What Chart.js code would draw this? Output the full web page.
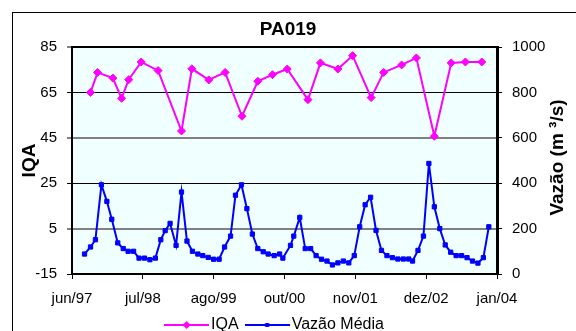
<!DOCTYPE html>
<html>
<head>
<meta charset="utf-8">
<script src="https://cdn.jsdelivr.net/npm/chart.js@4.4.0/dist/chart.umd.min.js"></script>
<style>
body { margin: 0; background: #fff; }
#wrap { width: 576px; height: 331px; }
</style>
</head>
<body>
<div id="wrap"><canvas id="pa019"></canvas></div>
<script>
//Axis ticks (x in months counted from jun/97)
const tickLabels = ['jun/97', 'jul/98', 'ago/99', 'out/00', 'nov/01', 'dez/02', 'jan/04'];
const tickMonths = [0, 13, 26, 39, 52, 65, 78];
const iqaTicks = [-15, 5, 25, 45, 65, 85];
const vazaoTicks = [0, 200, 400, 600, 800, 1000];

//IQA samples
const iqaMonths = [3.4, 4.7, 7.5, 9.1, 10.4, 12.7, 15.8, 20.1, 22.0, 25.1, 28.1, 31.2, 34.1, 36.8,
    39.5, 43.3, 45.6, 48.8, 51.5, 54.9, 57.2, 60.5, 63.2, 66.5, 69.6, 72.2, 75.2];
const iqaValues = [65.0, 73.8, 71.3, 62.4, 70.6, 78.4, 74.6, 48.0, 75.4, 70.5, 73.8, 54.5, 69.9, 72.8,
    75.3, 61.8, 78.0, 75.3, 81.2, 62.7, 73.8, 77.1, 80.2, 45.7, 78.0, 78.4, 78.4];

//Vazao media (m3/s)
const vazaoMonths = [2.3, 3.4, 4.3, 5.4, 6.4, 7.3, 8.4, 9.4, 10.3, 11.3, 12.3, 13.3, 14.3, 15.3, 16.3,
    17.1, 18.0, 19.1, 20.1, 21.1, 22.1, 23.1, 24.0, 25.0, 26.0, 27.0,
    28.0, 29.1, 30.0, 31.1, 32.1, 33.1, 34.1, 35.1, 36.0, 37.1, 38.1, 38.7,
    40.1, 40.7, 41.8, 42.8, 43.8, 44.8, 45.8, 46.8, 47.8, 48.8, 49.8, 50.8, 51.8, 52.8, 53.8, 54.8,
    55.8, 56.8, 57.8, 58.8, 59.8, 60.8, 61.8,
    62.5, 63.5, 64.5, 65.5, 66.5, 67.5, 68.5, 69.5, 70.5, 71.5, 72.5, 73.5, 74.5, 75.5, 76.5];
const vazaoValues = [88, 119, 151, 393, 320, 241, 137, 112, 100, 100, 70, 70, 63, 70, 151,
    191, 223, 126, 361, 145, 100, 88, 81, 73, 65, 65,
    119, 167, 347, 393, 288, 176, 112, 98, 88, 81, 88, 70,
    126, 167, 249, 112, 112, 81, 65, 57, 40, 49, 57, 49, 81, 208, 305, 338,
    192, 104, 81, 72, 66, 66, 66,
    57, 104, 167, 487, 296, 200, 128, 96, 81, 81, 72, 57, 48, 72, 208];

const iqaColor = '#FF00FF';
const vazaoColor = '#0000FF';
Chart.defaults.font.family = '"Liberation Sans", Arial, sans-serif';
Chart.defaults.color = '#000';

//Legend swatch, Excel style: line with the marker in the middle
function legendSwatch(color, diamond) {
    const c = document.createElement('canvas');
    c.width = 45;
    c.height = 12;
    const ctx = c.getContext('2d');
    ctx.strokeStyle = color;
    ctx.fillStyle = color;
    ctx.lineWidth = 2;
    ctx.beginPath();
    ctx.moveTo(0, 6);
    ctx.lineTo(45, 6);
    ctx.stroke();
    ctx.beginPath();
    if (diamond) {
        ctx.moveTo(22.5, 2); ctx.lineTo(26.5, 6); ctx.lineTo(22.5, 10); ctx.lineTo(18.5, 6);
    } else {
        ctx.rect(20.5, 4, 4, 4);
    }
    ctx.fill();
    return c;
}
const swatches = [legendSwatch(iqaColor, true), legendSwatch(vazaoColor, false)];

//Background, outer frame, right title
const chartFrame = {
    id: 'chartFrame',
    beforeDraw(chart) {
        const {ctx, chartArea: a} = chart;
        ctx.save();
        ctx.fillStyle = '#fff';
        ctx.fillRect(0, 0, chart.width, chart.height);
        ctx.strokeStyle = '#000';
        ctx.lineWidth = 1;
        ctx.strokeRect(12.5, 12.5, chart.width, chart.height);
        ctx.fillStyle = '#F0FFFF';
        ctx.fillRect(a.left, a.top, a.right - a.left, a.bottom - a.top);
        ctx.restore();
    },
    afterLayout(chart) {
        //legend row sits at the very bottom, a little left of centre
        const lg = chart.legend;
        lg.left -= 11; lg.right -= 11;
        lg.top = chart.height - 26;
        lg.bottom = lg.top + 36;
    },
    afterDraw(chart) {
        //right title reads bottom to top, like the left one
        const {ctx, chartArea: a} = chart;
        ctx.save();
        ctx.translate(558, (a.top + a.bottom) / 2 - 3);
        ctx.rotate(-Math.PI / 2);
        ctx.font = 'bold 19px "Liberation Sans", Arial, sans-serif';
        ctx.textAlign = 'center';
        ctx.textBaseline = 'middle';
        ctx.fillStyle = '#000';
        ctx.fillText('Vazão (m ³/s)', 0, 0);
        ctx.restore();
    }
};

function gridColour(v) {
    return (v === 5 || v === 45) ? '#808080' : '#000';
}
function gridWidth(v) {
    if (v === 85) return 2;
    return (v === 5 || v === 45) ? 2 : 1;
}

const canvas = document.getElementById('pa019');
const chart = new Chart(canvas, {
    type: 'line',
    data: {
        datasets: [{
            label: 'IQA',
            data: iqaMonths.map((m, i) => ({x: m, y: iqaValues[i]})),
            yAxisID: 'y',
            borderColor: iqaColor,
            backgroundColor: iqaColor,
            borderWidth: 2,
            pointStyle: 'rectRot',
            pointRadius: 4,
            pointBorderWidth: 1,
            tension: 0,
        }, {
            label: 'Vazão Média',
            data: vazaoMonths.map((m, i) => ({x: m, y: vazaoValues[i]})),
            yAxisID: 'y1',
            borderColor: vazaoColor,
            backgroundColor: vazaoColor,
            borderWidth: 2,
            pointStyle: 'rect',
            pointRadius: 3,
            pointBorderWidth: 1,
            tension: 0,
        }]
    },
    options: {
        responsive: true,
        maintainAspectRatio: false,
        animation: false,
        layout: {padding: 0},
        scales: {
            x: {
                type: 'linear',
                min: 0,
                max: 78,
                afterBuildTicks: s => { s.ticks = tickMonths.map(v => ({value: v})); },
                afterFit: s => { s.height = s.chart.height - 274 - s.chart.legend.height; },
                border: {color: '#000', width: 2},
                grid: {drawOnChartArea: false, tickLength: 5, tickColor: '#000'},
                ticks: {
                    callback: (v, i) => tickLabels[i],
                    autoSkip: false,
                    maxRotation: 0,
                    padding: 11,
                    font: {size: 15},
                },
            },
            y: {
                position: 'left',
                min: -15,
                max: 85,
                afterBuildTicks: s => { s.ticks = iqaTicks.map(v => ({value: v})); },
                afterFit: s => { s.width = 72; },
                border: {color: '#000', width: 2},
                grid: {
                    color: c => gridColour(c.tick.value),
                    lineWidth: c => gridWidth(c.tick.value),
                    tickLength: 5,
                    tickColor: '#000',
                    tickWidth: 1,
                },
                ticks: {padding: 10, font: {size: 15}, callback: v => String(v)},
                title: {
                    display: true,
                    text: 'IQA',
                    font: {size: 19, weight: 'bold'},
                    padding: {top: 18.6, bottom: 0},
                },
            },
            y1: {
                position: 'right',
                min: 0,
                max: 1000,
                afterBuildTicks: s => { s.ticks = vazaoTicks.map(v => ({value: v})); },
                afterFit: s => { s.width = 79; },
                border: {color: '#000', width: 3},
                grid: {drawOnChartArea: false, tickLength: 5, tickColor: '#000'},
                ticks: {padding: 10, font: {size: 15}, callback: v => String(v)},
            },
        },
        plugins: {
            title: {
                display: true,
                text: 'PA019',
                font: {size: 19, weight: 'bold'},
                padding: {top: 18.6, bottom: 5.6},
            },
            legend: {
                position: 'bottom',
                maxHeight: 10,
                labels: {
                    usePointStyle: true,
                    pointStyleWidth: 33,
                    padding: 12,
                    font: {size: 16},
                    generateLabels: c => c.data.datasets.map((ds, i) => ({
                        text: ds.label,
                        pointStyle: swatches[i],
                        datasetIndex: i,
                        lineWidth: 0,
                        fontColor: '#000',
                        hidden: false,
                    })),
                },
            },
            tooltip: {enabled: false},
        },
    },
    plugins: [chartFrame],
});
</script>
</body>
</html>
